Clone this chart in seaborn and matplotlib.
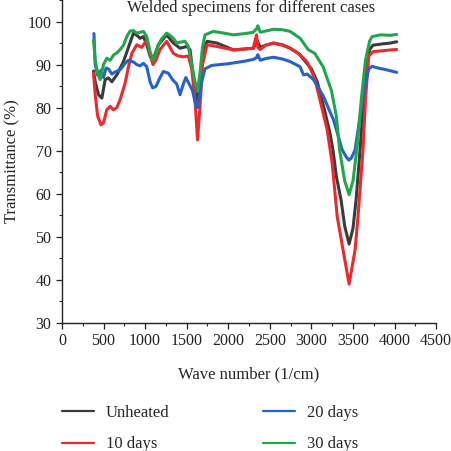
import numpy as np
import pandas as pd
import seaborn as sns
import matplotlib
matplotlib.use("Agg")
import matplotlib.pyplot as plt
from matplotlib.ticker import MultipleLocator

series_names = ["Unheated", "10 days", "20 days", "30 days"]
series_colors = ["#3b3b3b", "#ec2a2e", "#2563c8", "#22a64c"]

unheated_x = [380, 400, 440, 480, 520, 560, 600, 660, 740, 800, 860, 900, 940, 980, 1020, 1060, 1090,
              1130, 1160, 1260, 1340, 1420, 1500, 1540, 1580, 1630, 1660, 1700, 1745, 1865, 2065, 2305,
              2345, 2385, 2450, 2545, 2650, 2745, 2850, 2945, 3000, 3070, 3150, 3224, 3260, 3300, 3356,
              3400, 3453, 3500, 3537, 3585, 3620, 3660, 3700, 3740, 3850, 3950, 4025]
unheated_y = [88.5, 86, 83, 82.2, 86.5, 86.9, 86, 87.6, 90.7, 94, 97.3, 96.8, 96.1, 96.5, 94.6, 92, 90.7,
              93, 94.6, 96.9, 95, 93.8, 94.2, 93.5, 87.2, 80.3, 86, 93, 95.4, 95, 93.4, 93.8,
              95.7, 94, 94.5, 95, 94.6, 93.8, 92.5, 90.3, 89, 86, 80, 74, 70, 64, 58.6,
              52.5, 48.3, 52, 58.6, 70.2, 80, 90, 93.5, 94.5, 94.8, 95, 95.3]

d10_x = [380, 400, 430, 470, 500, 540, 580, 620, 660, 700, 760, 800, 840, 900, 960, 1020, 1060, 1095,
         1130, 1180, 1260, 1300, 1340, 1400, 1460, 1520, 1560, 1600, 1630, 1660, 1690, 1745, 1865, 2065,
         2300, 2340, 2355, 2385, 2450, 2545, 2650, 2745, 2850, 2945, 3000, 3044, 3100, 3188, 3250, 3310,
         3380, 3453, 3525, 3560, 3620, 3650, 3690, 3740, 3850, 3950, 4025]
d10_y = [88, 83, 78, 76, 76.5, 79.5, 80.3, 79.5, 80, 81.9, 85.7, 89.5, 92.6, 94.6, 94, 95.7, 92.5, 90,
         91, 93.5, 95.4, 94, 92.6, 92, 91.8, 92, 89, 82, 72.5, 80, 90, 94.6, 94.2, 93.4,
         93.8, 96.9, 94, 93.5, 94.5, 95, 94.5, 93.8, 92.5, 90.7, 88.5, 86.5, 82, 75, 67, 54.7,
         47, 39, 47, 54.7, 70.2, 82, 92, 93, 93.2, 93.4, 93.5]

d20_x = [385, 400, 430, 470, 500, 530, 560, 600, 640, 700, 760, 800, 860, 900, 940, 980, 1020, 1060,
         1090, 1130, 1180, 1220, 1280, 1330, 1380, 1420, 1460, 1490, 1530, 1570, 1610, 1630, 1650, 1680,
         1720, 1800, 1900, 2000, 2100, 2200, 2300, 2340, 2355, 2385, 2450, 2545, 2650, 2745, 2863, 2905,
         2950, 3025, 3145, 3224, 3265, 3370, 3420, 3450, 3480, 3525, 3585, 3640, 3690, 3730, 3800, 3900, 4025]
d20_y = [97.2, 90, 87.5, 88.7, 87, 89.2, 89, 87.8, 88.3, 88.8, 90.3, 91, 90.6, 90, 89.7, 90.3, 89.5, 86,
         84.6, 84.9, 87, 88.4, 88, 86.5, 85.5, 83, 85.5, 87, 85.5, 84, 80.5, 80, 82, 86,
         89, 89.8, 90, 90.2, 90.5, 90.8, 91.2, 91.6, 92.3, 91, 91.4, 91.7, 91.3, 90.7, 89.5, 87.6,
         87.8, 86.5, 82.6, 79, 77.2, 70.2, 68.5, 67.8, 68.3, 70.2, 78, 85, 89, 89.6, 89.2, 88.8, 88.2]

d30_x = [380, 400, 430, 460, 500, 540, 580, 620, 660, 700, 740, 780, 820, 860, 900, 940, 980, 1020,
         1060, 1095, 1130, 1160, 1200, 1260, 1300, 1340, 1380, 1420, 1480, 1520, 1560, 1600, 1630, 1660,
         1690, 1720, 1820, 1950, 2060, 2200, 2300, 2340, 2355, 2385, 2450, 2545, 2650, 2745, 2865, 2960,
         3040, 3140, 3240, 3300, 3340, 3400, 3453, 3500, 3550, 3600, 3650, 3700, 3730, 3825, 3950, 4025]
d30_y = [95.7, 91, 88, 86.5, 90, 91.5, 91, 92.2, 92.7, 93.5, 94.5, 96.5, 97.8, 97.9, 97.3, 97.5, 97.7, 96.5,
         93, 91, 92.5, 94.6, 96, 97.3, 96.8, 96.1, 95, 95.2, 95.4, 94.2, 90, 86, 83.8, 88,
         94, 96.9, 97.7, 97.3, 96.9, 97.2, 97.5, 98.3, 99, 97.5, 97.8, 98.2, 98.1, 97.7, 96.1, 93.5,
         92.6, 89.5, 84, 78, 70, 63, 59.8, 63, 71, 82, 91, 95.5, 96.5, 96.9, 96.8, 97.0]

frames = []
for name, xs, ys in zip(series_names,
                        [unheated_x, d10_x, d20_x, d30_x],
                        [unheated_y, d10_y, d20_y, d30_y]):
    frames.append(pd.DataFrame({"wave": xs, "trans": ys, "case": name}))
df = pd.concat(frames, ignore_index=True)

sns.set_style("ticks")
plt.rcParams["font.family"] = ["Liberation Serif", "DejaVu Serif"]

fig = plt.figure(figsize=(4.52, 4.51), dpi=100)
ax = fig.add_axes([0.137, 0.284, 0.828, 0.716])

sns.lineplot(data=df, x="wave", y="trans", hue="case", hue_order=series_names,
             palette=series_colors, estimator=None, sort=True, linewidth=2.2, ax=ax)

ax.set_xlim(0, 4500)
ax.set_ylim(30, 105)
ax.xaxis.set_major_locator(MultipleLocator(500))
ax.xaxis.set_minor_locator(MultipleLocator(250))
ax.set_yticks([30, 40, 50, 60, 70, 80, 90, 100])
ax.yaxis.set_minor_locator(MultipleLocator(5))
ax.tick_params(axis="both", which="major", length=4, width=0.9, labelsize=11.5, colors="#222222")
ax.tick_params(axis="both", which="minor", length=2.5, width=0.8)
for s in ["top", "right"]:
    ax.spines[s].set_visible(False)
for s in ["left", "bottom"]:
    ax.spines[s].set_linewidth(1.0)
    ax.spines[s].set_color("#222222")

ax.set_xlabel("Wave number (1/cm)", fontsize=12, labelpad=12)
ax.set_ylabel("Transmittance (%)", fontsize=12, labelpad=5)
ax.text(0.505, 0.999, "Welded specimens for different cases", transform=ax.transAxes,
        ha="center", va="top", fontsize=12)

sns.move_legend(ax, "upper left", bbox_to_anchor=(0.137, 0.103), bbox_transform=fig.transFigure,
                ncol=2, frameon=False, title=None, fontsize=12, handlelength=1.9,
                handletextpad=0.75, columnspacing=5.6, labelspacing=0.95, borderaxespad=0,
                borderpad=0)
for line in ax.get_legend().get_lines():
    line.set_linewidth(1.6)

fig.savefig("out.png", dpi=100)
